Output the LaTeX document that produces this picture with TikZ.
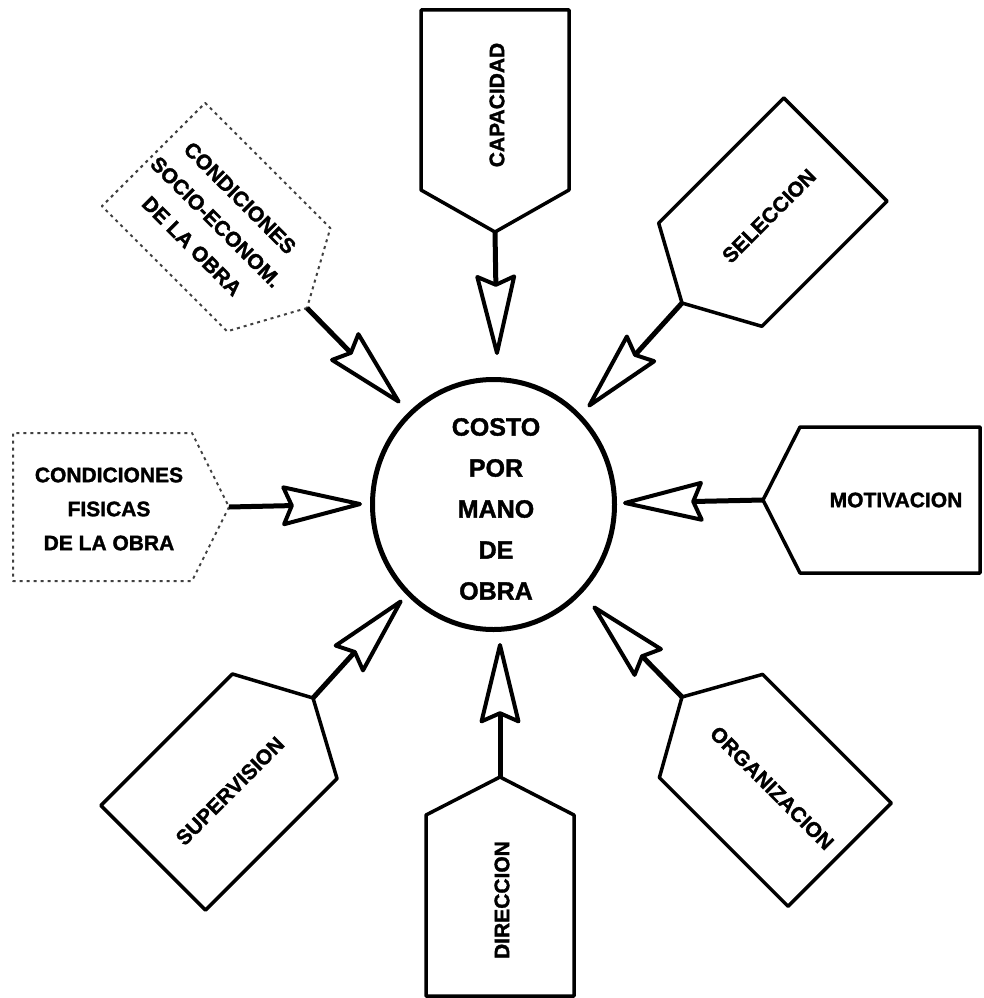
\documentclass[tikz,border=0pt]{standalone}
\usepackage{fontspec}
\setmainfont{Liberation Sans}
\newfontfamily\heavy{Liberation Sans Bold}[FakeBold=1.5]
\usetikzlibrary{arrows.meta,shapes.geometric}
\newcommand{\housebox}[6]{%
  \begin{scope}[shift={(#1)}, rotate=#2]
    \draw[#6] (0,0) -- (-#3,#4/2) -- (-#3-#5,#4/2) -- (-#3-#5,-#4/2) -- (-#3,-#4/2) -- cycle;
  \end{scope}}
\begin{document}
\begin{tikzpicture}[x=1pt,y=-1pt,
  boxline/.style={line width=3.5pt, line join=round},
  fadedbox/.style={line width=2pt, dash pattern=on 3pt off 4pt, line join=round, draw=black!75},
  lbl/.style={font=\heavy\fontsize{21}{34}\selectfont, align=center, inner sep=0pt},
  feed/.style={line width=5pt, -{Stealth[length=88pt, width=42pt, inset=9pt, open, fill=white, round, line width=4pt]}},
]
\fill[white] (0,0) rectangle (983,998);
\useasboundingbox (0,0) rectangle (983,998);

% central circle
\node[draw, ellipse, line width=5pt, minimum width=242pt, minimum height=250pt, inner sep=0pt] (costo) at (493.5,504.5) {};
\node[font=\heavy\fontsize{25}{41}\selectfont, align=center, inner sep=0pt] (costotxt) at (496,509) {COSTO\\POR\\MANO\\DE\\OBRA};

% apex points of the boxes
\coordinate (capP) at (495,232);
\coordinate (dirP) at (500,777);
\coordinate (motP) at (763,500);
\coordinate (fisP) at (229,507);
\coordinate (selP) at (682,303);
\coordinate (orgP) at (682,697);
\coordinate (supP) at (313,698);
\coordinate (socP) at (307,308);

% arrow tips
\coordinate (capT) at (497,355);
\coordinate (dirT) at (500,643);
\coordinate (motT) at (623,503);
\coordinate (fisT) at (362,504);
\coordinate (selT) at (588,407);
\coordinate (orgT) at (593,606);
\coordinate (supT) at (402,600);
\coordinate (socT) at (400,403);

% boxes
\housebox{capP}{-90}{42}{148}{180}{boxline}
\housebox{dirP}{90}{38}{148}{181}{boxline}
\housebox{motP}{180}{37}{146}{180}{boxline}
\housebox{fisP}{0}{37}{148}{179}{fadedbox}
\housebox{selP}{225}{40}{146}{177}{boxline}
\housebox{orgP}{135}{41}{146}{182}{boxline}
\housebox{supP}{45}{40}{148}{186}{boxline}
\housebox{socP}{-45}{40}{146}{177}{fadedbox}

% labels
\node[lbl, rotate=90] (cap) at (497,105) {CAPACIDAD};
\node[lbl, rotate=90] (dir) at (502,900) {DIRECCION};
\node[lbl] (mot) at (896,500) {MOTIVACION};
\node[lbl] (fis) at (109,509) {CONDICIONES\\FISICAS\\DE LA OBRA};
\node[lbl, rotate=45] (sel) at (769,216) {SELECCION};
\node[lbl, rotate=-45] (org) at (772,788) {ORGANIZACION};
\node[lbl, rotate=45] (sup) at (230,791) {SUPERVISION};
\node[lbl, rotate=-45] (soc) at (216,222) {CONDICIONES\\SOCIO-ECONOM.\\DE LA OBRA};

% arrows into the circle
\foreach \a in {cap,dir,mot,fis,sel,org,sup,soc}{
  \draw[feed] (\a P) -- (\a T);
}
\end{tikzpicture}
\end{document}
